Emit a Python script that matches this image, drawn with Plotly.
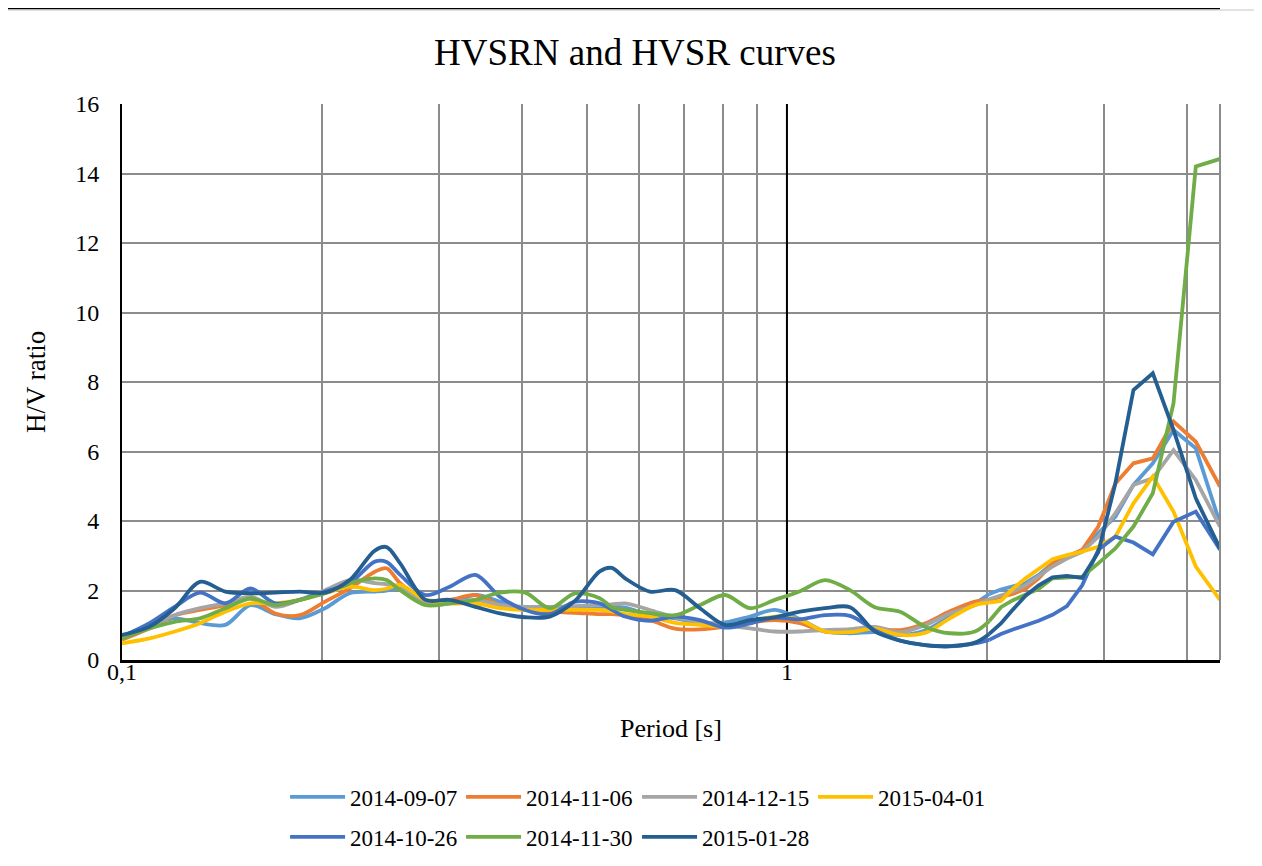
import math
import plotly.graph_objects as go

# ---------------- data ----------------
period_s = [0.100, 0.110, 0.120, 0.131, 0.143, 0.156, 0.170, 0.185, 0.202, 0.220,
            0.240, 0.250, 0.262, 0.286, 0.311, 0.340, 0.370, 0.404, 0.440, 0.480,
            0.523, 0.545, 0.571, 0.622, 0.679, 0.740, 0.807, 0.880, 0.959, 1.046,
            1.141, 1.244, 1.356, 1.479, 1.613, 1.758, 1.917, 2.015, 2.098, 2.187,
            2.285, 2.391, 2.508, 2.637, 2.780, 2.939, 3.118, 3.320, 3.550, 3.814,
            4.120, 4.480]

hv_2014_09_07 = [0.67, 1.01, 1.20, 1.06, 1.01, 1.58, 1.32, 1.20, 1.49, 1.92,
                 1.97, 2.00, 2.06, 1.63, 1.63, 1.87, 1.68, 1.49, 1.52, 1.53,
                 1.53, 1.53, 1.51, 1.29, 1.20, 1.06, 1.08, 1.25, 1.44, 1.18,
                 0.82, 0.77, 0.80, 0.72, 0.85, 1.25, 1.63, 1.90, 2.03, 2.12,
                 2.21, 2.45, 2.78, 2.95, 3.12, 3.65, 4.12, 5.04, 5.66, 6.62,
                 6.09, 3.93]
hv_2014_11_06 = [0.58, 0.91, 1.29, 1.44, 1.58, 1.77, 1.34, 1.29, 1.68, 2.06,
                 2.54, 2.64, 2.21, 1.73, 1.73, 1.87, 1.58, 1.44, 1.39, 1.36,
                 1.32, 1.32, 1.29, 1.15, 0.90, 0.88, 0.96, 1.08, 1.15, 1.06,
                 0.82, 0.85, 0.91, 0.86, 1.05, 1.40, 1.68, 1.73, 1.80, 1.90,
                 2.05, 2.35, 2.78, 2.98, 3.17, 3.84, 5.08, 5.66, 5.80, 6.86,
                 6.28, 4.99]
hv_2014_12_15 = [0.62, 0.96, 1.29, 1.49, 1.63, 1.82, 1.53, 1.73, 2.01, 2.30,
                 2.21, 2.18, 2.11, 1.63, 1.63, 1.73, 1.58, 1.53, 1.53, 1.55,
                 1.58, 1.60, 1.63, 1.44, 1.23, 1.10, 1.00, 0.91, 0.82, 0.82,
                 0.86, 0.89, 0.95, 0.80, 1.00, 1.34, 1.58, 1.75, 1.87, 1.97,
                 2.15, 2.40, 2.69, 2.92, 3.12, 3.55, 4.22, 5.04, 5.23, 6.04,
                 5.18, 3.84]
hv_2015_04_01 = [0.48, 0.62, 0.82, 1.06, 1.39, 1.63, 1.63, 1.73, 1.92, 2.11,
                 2.01, 2.05, 2.16, 1.73, 1.63, 1.63, 1.49, 1.44, 1.44, 1.44,
                 1.44, 1.40, 1.32, 1.25, 1.07, 1.01, 0.96, 1.10, 1.25, 1.15,
                 0.82, 0.80, 0.90, 0.72, 0.78, 1.20, 1.58, 1.65, 1.70, 2.05,
                 2.35, 2.62, 2.90, 3.02, 3.12, 3.26, 3.55, 4.51, 5.28, 4.27,
                 2.69, 1.73]
hv_2014_10_26 = [0.67, 1.06, 1.53, 1.94, 1.63, 2.06, 1.63, 1.73, 1.97, 2.21,
                 2.83, 2.82, 2.45, 1.87, 2.11, 2.45, 1.82, 1.44, 1.32, 1.68,
                 1.63, 1.45, 1.25, 1.13, 1.25, 1.15, 0.93, 1.05, 1.22, 1.17,
                 1.29, 1.27, 0.86, 0.56, 0.43, 0.39, 0.48, 0.58, 0.75, 0.88,
                 1.00, 1.13, 1.30, 1.55, 2.15, 3.17, 3.55, 3.38, 3.04, 3.98,
                 4.27, 3.17]
hv_2014_11_30 = [0.62, 0.91, 1.10, 1.20, 1.49, 1.77, 1.58, 1.73, 1.92, 2.21,
                 2.35, 2.30, 2.01, 1.58, 1.63, 1.73, 1.94, 1.94, 1.49, 1.92,
                 1.78, 1.52, 1.44, 1.35, 1.29, 1.58, 1.87, 1.49, 1.73, 1.98,
                 2.30, 2.01, 1.52, 1.39, 0.96, 0.77, 0.82, 1.12, 1.52, 1.72,
                 1.88, 2.05, 2.35, 2.38, 2.40, 2.78, 3.21, 3.84, 4.80, 7.39,
                 14.20, 14.42]
hv_2015_01_28 = [0.72, 0.96, 1.49, 2.25, 1.97, 1.92, 1.94, 1.97, 1.94, 2.30,
                 3.15, 3.25, 2.78, 1.73, 1.73, 1.53, 1.34, 1.23, 1.25, 1.70,
                 2.55, 2.65, 2.35, 1.97, 2.01, 1.49, 1.01, 1.15, 1.23, 1.39,
                 1.49, 1.52, 0.82, 0.56, 0.43, 0.40, 0.50, 0.75, 1.05, 1.45,
                 1.85, 2.15, 2.38, 2.42, 2.36, 3.10, 5.08, 7.77, 8.25, 6.62,
                 4.65, 3.21]

series_names = ["2014-09-07", "2014-11-06", "2014-12-15", "2015-04-01",
                "2014-10-26", "2014-11-30", "2015-01-28"]
series_values = [hv_2014_09_07, hv_2014_11_06, hv_2014_12_15, hv_2015_04_01,
                 hv_2014_10_26, hv_2014_11_30, hv_2015_01_28]

x_tick_vals = [0.1, 0.2, 0.3, 0.4, 0.5, 0.6, 0.7, 0.8, 0.9, 1, 2, 3, 4]
x_tick_text = ["0,1", "", "", "", "", "", "", "", "", "1", "", "", ""]
y_tick_vals = [0, 2, 4, 6, 8, 10, 12, 14, 16]
period_max = 4.48
split_period = 2.0   # sparse samples above this period are drawn as straight segments

# ---------------- style ----------------
colors = ["#5B9BD5", "#ED7D31", "#A5A5A5", "#FFC000",
          "#4472C4", "#70AD47", "#255E91"]
legend_of = ["legend", "legend", "legend", "legend",
             "legend2", "legend2", "legend2"]
FONT = "Liberation Serif, Times New Roman, serif"
GRID = "#8C8C8C"
LW = 3.8

fig = go.Figure()

# black vertical line at T = 1 s (axis crossing)
fig.add_trace(go.Scatter(x=[1, 1], y=[0, 16], mode="lines",
                         line=dict(color="black", width=2),
                         showlegend=False, hoverinfo="skip"))

split_i = next(i for i, p in enumerate(period_s) if p >= split_period)

for name, vals, col, lg in zip(series_names, series_values, colors, legend_of):
    # densely sampled part: smoothed line
    fig.add_trace(go.Scatter(
        x=period_s[:split_i + 1], y=vals[:split_i + 1], name=name, mode="lines",
        line=dict(color=col, width=LW, shape="spline", smoothing=0.9),
        legend=lg, legendgroup=name,
    ))
    # sparse long-period part: straight segments
    fig.add_trace(go.Scatter(
        x=period_s[split_i:], y=vals[split_i:], name=name, mode="lines",
        line=dict(color=col, width=LW),
        legend=lg, legendgroup=name, showlegend=False,
    ))

W, H = 1246, 850   # page adds an 8 px body margin around the figure
fig.update_layout(
    width=W, height=H,
    margin=dict(l=114, r=34, t=96, b=198, autoexpand=False),
    paper_bgcolor="white", plot_bgcolor="white",
    font=dict(family=FONT, color="black", size=23),
    title=dict(text="HVSRN and HVSR curves", x=627 / W, xref="container",
               xanchor="center", y=1 - 44 / H, yref="container",
               yanchor="middle", font=dict(family=FONT, size=37, color="black")),
    xaxis=dict(type="log", range=[-1, math.log10(period_max)],
               tickvals=x_tick_vals, ticktext=x_tick_text,
               showgrid=True, gridcolor=GRID, gridwidth=2,
               showline=True, linecolor="black", linewidth=3,
               ticks="", zeroline=False, ticklabelstandoff=-12,
               tickfont=dict(family=FONT, size=24),
               title=dict(text="Period [s]", standoff=36,
                          font=dict(family=FONT, size=26))),
    yaxis=dict(range=[0, 16], tickvals=y_tick_vals,
               showgrid=True, gridcolor=GRID, gridwidth=2,
               showline=True, linecolor="black", linewidth=2,
               ticks="", zeroline=False, ticklabelstandoff=16,
               tickfont=dict(family=FONT, size=24),
               title=dict(text="H/V ratio", standoff=22,
                          font=dict(family=FONT, size=27))),
    legend=dict(orientation="h", x=0.1485, xanchor="left",
                y=-0.2464, yanchor="middle", itemwidth=55,
                entrywidth=106, entrywidthmode="pixels",
                font=dict(family=FONT, size=23), bgcolor="rgba(0,0,0,0)"),
    legend2=dict(orientation="h", x=0.1485, xanchor="left",
                 y=-0.3183, yanchor="middle", itemwidth=55,
                 entrywidth=106, entrywidthmode="pixels",
                 font=dict(family=FONT, size=23), bgcolor="rgba(0,0,0,0)"),
    showlegend=True,
    shapes=[
        # right edge of plot area
        dict(type="line", xref="paper", yref="paper", x0=1, x1=1, y0=0, y1=1,
             line=dict(color=GRID, width=2)),
        # page decorations above the chart
        dict(type="line", xref="paper", yref="paper", x0=-0.104, x1=1.0,
             y0=1.1715, y1=1.1715, line=dict(color="black", width=2)),
        # light chart border
        dict(type="line", xref="paper", yref="paper", x0=-0.104, x1=1.05,
             y0=1.169, y1=1.169, line=dict(color="#D9D9D9", width=1.5)),
    ],
)

fig.write_html("out.html")
